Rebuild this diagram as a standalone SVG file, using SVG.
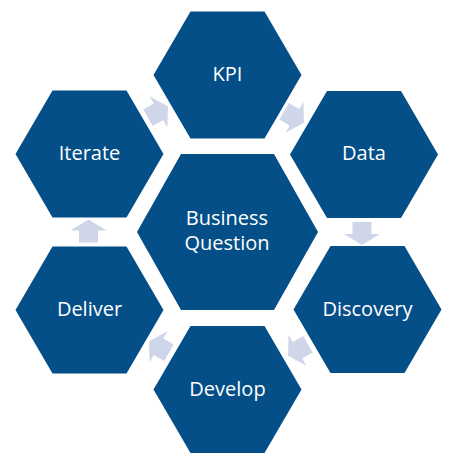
<svg xmlns="http://www.w3.org/2000/svg" width="464" height="458" viewBox="0 0 464 458">
<style>
.hex{fill:#044F88}
.arrow{fill:#D0D6EA}
.lbl{fill:#ffffff;font-family:"Open Sans","Liberation Sans",sans-serif;font-size:20px;text-anchor:middle}
</style>
<defs>
<polygon id="hexS" points="-74,0 -37,-63.5 37,-63.5 74,0 37,63.5 -37,63.5"/>
<polygon id="hexL" points="-90.5,0 -46.5,-78 46.5,-78 90.5,0 46.5,78 -46.5,78"/>
<polygon id="arr" points="-11.5,-9.5 0.5,-9.5 0.5,-18 11.5,0 0.5,18 0.5,9.5 -11.5,9.5"/>
</defs>
<rect width="464" height="458" fill="#ffffff"/>
<g id="connectors">
<use href="#arr" class="arrow" transform="translate(158,112) rotate(-30)"/>
<use href="#arr" class="arrow" transform="translate(294,117) rotate(30)"/>
<use href="#arr" class="arrow" transform="translate(362,233.5) rotate(90)"/>
<use href="#arr" class="arrow" transform="translate(298,350) rotate(150)"/>
<use href="#arr" class="arrow" transform="translate(159,347) rotate(210)"/>
<use href="#arr" class="arrow" transform="translate(88.5,231) rotate(-90)"/>
</g>
<g id="kpi">
<use href="#hexS" class="hex" transform="translate(227.5,75)"/>
<text class="lbl" x="227.5" y="81">KPI</text>
</g>
<g id="data">
<use href="#hexS" class="hex" transform="translate(364,154.5)"/>
<text class="lbl" x="364" y="160">Data</text>
</g>
<g id="discovery">
<use href="#hexS" class="hex" transform="translate(367.5,309.5)"/>
<text class="lbl" x="367.5" y="316">Discovery</text>
</g>
<g id="develop">
<use href="#hexS" class="hex" transform="translate(227.5,389.5)"/>
<text class="lbl" x="227.5" y="395.5">Develop</text>
</g>
<g id="deliver">
<use href="#hexS" class="hex" transform="translate(89.5,310)"/>
<text class="lbl" x="89.5" y="316">Deliver</text>
</g>
<g id="iterate">
<use href="#hexS" class="hex" transform="translate(89.5,154)"/>
<text class="lbl" x="89.5" y="160">Iterate</text>
</g>
<g id="business-question">
<use href="#hexL" class="hex" transform="translate(227.5,232)"/>
<text class="lbl" x="227" y="225">Business</text>
<text class="lbl" x="227" y="250">Question</text>
</g>
</svg>
